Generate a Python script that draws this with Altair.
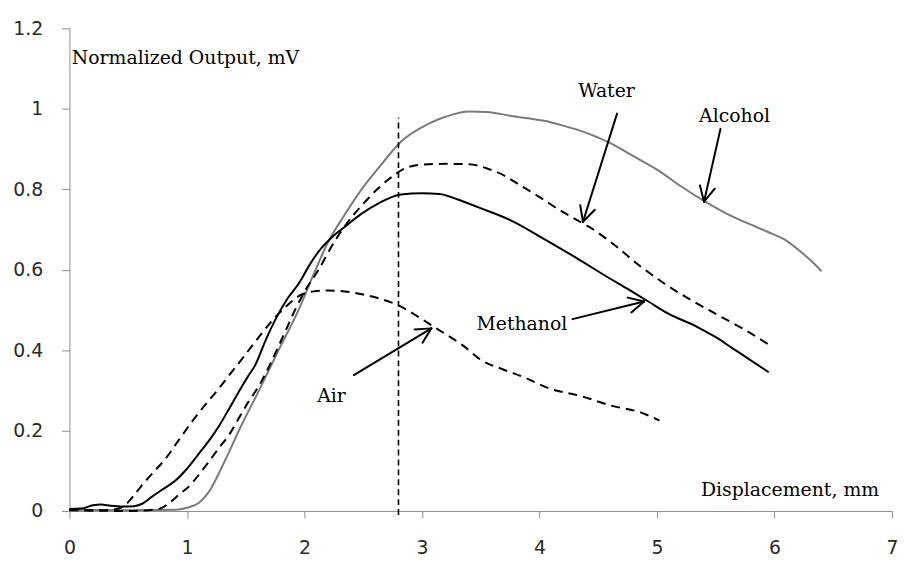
import math
import altair as alt
import pandas as pd

# ---- data ----
alcohol_x = [0, 0.5, 0.9, 1.0, 1.1, 1.18, 1.32, 1.45, 1.61, 1.78, 1.95, 2.08, 2.2, 2.35, 2.48, 2.65, 2.82,
             3.05, 3.2, 3.4, 3.55, 3.76, 4.04, 4.2, 4.4, 4.62, 4.8, 5.01, 5.2, 5.41, 5.6, 5.75, 5.95, 6.09,
             6.2, 6.3, 6.4]
alcohol_y = [0.003, 0.002, 0.003, 0.008, 0.02, 0.045, 0.123, 0.205, 0.298, 0.40, 0.50, 0.59, 0.668, 0.74,
             0.797, 0.86, 0.918, 0.962, 0.98, 0.993, 0.992, 0.982, 0.97, 0.958, 0.94, 0.912, 0.882, 0.847,
             0.808, 0.769, 0.738, 0.718, 0.693, 0.674, 0.65, 0.625, 0.596]

methanol_x = [0, 0.1, 0.2, 0.27, 0.35, 0.45, 0.55, 0.62, 0.7, 0.8, 0.9, 1.0, 1.1, 1.2, 1.27, 1.36, 1.44,
              1.52, 1.58, 1.67, 1.76, 1.86, 1.95, 2.05, 2.12, 2.25, 2.35, 2.48, 2.63, 2.82, 3.0, 3.15, 3.3,
              3.47, 3.76, 4.04, 4.32, 4.57, 4.75, 4.92, 5.1, 5.34, 5.5, 5.64, 5.76, 5.95]
methanol_y = [0.005, 0.006, 0.014, 0.016, 0.013, 0.011, 0.012, 0.018, 0.035, 0.055, 0.075, 0.105, 0.142,
              0.18, 0.21, 0.255, 0.296, 0.335, 0.362, 0.425, 0.48, 0.53, 0.565, 0.615, 0.645, 0.685, 0.708,
              0.738, 0.765, 0.787, 0.79, 0.788, 0.775, 0.756, 0.722, 0.676, 0.628, 0.583, 0.552, 0.522,
              0.49, 0.458, 0.432, 0.405, 0.382, 0.345]

water_x = [0, 0.5, 0.76, 0.85, 0.93, 1.04, 1.1, 1.18, 1.27, 1.36, 1.44, 1.52, 1.61, 1.7, 1.78, 1.85, 1.92,
           2.0, 2.12, 2.26, 2.4, 2.52, 2.63, 2.75, 2.85, 3.0, 3.2, 3.4, 3.56, 3.7, 3.79, 4.04, 4.15, 4.32,
           4.43, 4.6, 4.86, 5.05, 5.28, 5.5, 5.75, 5.97]
water_y = [0.002, 0.0, 0.005, 0.02, 0.04, 0.068, 0.09, 0.12, 0.156, 0.19, 0.23, 0.27, 0.31, 0.36, 0.41,
           0.455, 0.50, 0.545, 0.6, 0.672, 0.73, 0.77, 0.803, 0.832, 0.851, 0.861, 0.863, 0.862, 0.851,
           0.834, 0.818, 0.773, 0.752, 0.723, 0.705, 0.67, 0.608, 0.568, 0.526, 0.49, 0.45, 0.41]

air_x = [0, 0.2, 0.35, 0.42, 0.5, 0.56, 0.62, 0.72, 0.82, 0.93, 1.04, 1.15, 1.27, 1.38, 1.49, 1.6, 1.71,
         1.83, 1.95, 2.08, 2.2, 2.3, 2.5, 2.65, 2.8, 2.95, 3.09, 3.2, 3.35, 3.51, 3.68, 3.88, 4.08, 4.36,
         4.61, 4.86, 5.02]
air_y = [0.003, 0.002, 0.003, 0.006, 0.022, 0.043, 0.065, 0.098, 0.131, 0.176, 0.221, 0.262, 0.304, 0.345,
         0.386, 0.428, 0.468, 0.505, 0.534, 0.546, 0.548, 0.547, 0.538, 0.527, 0.511, 0.486, 0.46, 0.44,
         0.411, 0.374, 0.353, 0.331, 0.305, 0.285, 0.262, 0.245, 0.225]

# annotation texts
label_text = ["Normalized Output, mV", "Displacement, mm", "Water", "Alcohol", "Air", "Methanol"]
label_x = [0.02, 6.89, 4.57, 5.66, 2.23, 3.85]
label_y = [1.126, 0.052, 1.044, 0.983, 0.286, 0.464]
label_align = ["left", "right", "center", "center", "center", "center"]

# arrows: tail -> tip
arrow_x0 = [2.42, 4.28, 4.66, 5.54]
arrow_y0 = [0.338, 0.477, 0.988, 0.950]
arrow_x1 = [3.08, 4.89, 4.37, 5.40]
arrow_y1 = [0.454, 0.521, 0.719, 0.769]

marker_x = 2.8
marker_top = 0.978

# ---- layout ----
W, H = 830, 487
XMAX, YMAX = 7, 1.2
PX_X, PX_Y = W / XMAX, H / YMAX

x_scale = alt.Scale(domain=[0, XMAX], nice=False, zero=False)
y_scale = alt.Scale(domain=[0, YMAX], nice=False, zero=False)

def series(xs, ys):
    return pd.DataFrame({"x": xs, "y": ys})

X = alt.X("x:Q", scale=x_scale, title=None,
          axis=alt.Axis(values=list(range(0, 8)), format="d", grid=False, tickSize=7,
                        tickColor="#8c8c8c", domainColor="#8c8c8c", labelFont="DejaVu Sans",
                        labelFontSize=19, labelColor="#2a2a2a", labelPadding=21, labelFlush=False))
Y = alt.Y("y:Q", scale=y_scale, title=None,
          axis=alt.Axis(values=[0, 0.2, 0.4, 0.6, 0.8, 1.0, 1.2], format=".1~f", grid=False, tickSize=8,
                        tickColor="#8c8c8c", domainColor="#8c8c8c", labelFont="DejaVu Sans",
                        labelFontSize=19, labelColor="#2a2a2a", labelPadding=19, labelFlush=False))

alcohol = alt.Chart(series(alcohol_x, alcohol_y)).mark_line(
    color="#7a7a7a", strokeWidth=2, interpolate="monotone").encode(x=X, y=Y)
methanol = alt.Chart(series(methanol_x, methanol_y)).mark_line(
    color="#000000", strokeWidth=2, interpolate="monotone").encode(x="x:Q", y="y:Q")
water = alt.Chart(series(water_x, water_y)).mark_line(
    color="#000000", strokeWidth=2, strokeDash=[9, 6], interpolate="monotone").encode(x="x:Q", y="y:Q")
air = alt.Chart(series(air_x, air_y)).mark_line(
    color="#000000", strokeWidth=2, strokeDash=[9, 6], interpolate="monotone").encode(x="x:Q", y="y:Q")

vline = alt.Chart(pd.DataFrame({"x": [marker_x], "y": [-0.01], "y2": [marker_top]})).mark_rule(
    color="#000000", strokeWidth=1.6, strokeDash=[6, 4]).encode(x="x:Q", y="y:Q", y2="y2:Q")

# arrow shafts + heads
segs = []
HEAD, ANG = 17, math.radians(27)
for x0, y0, x1, y1 in zip(arrow_x0, arrow_y0, arrow_x1, arrow_y1):
    segs.append({"x": x0, "y": y0, "x2": x1, "y2": y1})
    dx, dy = (x0 - x1) * PX_X, (y0 - y1) * PX_Y
    L = math.hypot(dx, dy)
    ux, uy = dx / L, dy / L
    for s in (1, -1):
        a = ANG * s
        rx = ux * math.cos(a) - uy * math.sin(a)
        ry = ux * math.sin(a) + uy * math.cos(a)
        segs.append({"x": x1, "y": y1, "x2": x1 + rx * HEAD / PX_X, "y2": y1 + ry * HEAD / PX_Y})
arrows = alt.Chart(pd.DataFrame(segs)).mark_rule(color="#000000", strokeWidth=2, strokeCap="round").encode(
    x="x:Q", y="y:Q", x2="x2:Q", y2="y2:Q")

labels_df = pd.DataFrame({"t": label_text, "x": label_x, "y": label_y, "a": label_align})
label_layers = []
for al in ["left", "right", "center"]:
    label_layers.append(
        alt.Chart(labels_df[labels_df["a"] == al]).mark_text(
            align=al, baseline="middle", font="DejaVu Serif", fontSize=19, color="#000000"
        ).encode(x="x:Q", y="y:Q", text="t:N")
    )

chart = alt.layer(alcohol, water, methanol, air, vline, arrows, *label_layers).properties(
    width=W, height=H,
    background="white",
    autosize=alt.AutoSizeParams(type="none"),
    padding={"left": 62, "top": 18, "right": 6, "bottom": 51},
).configure_view(stroke="transparent", strokeWidth=0)

chart.save("out.html", embed_options={"renderer": "svg", "actions": False})
